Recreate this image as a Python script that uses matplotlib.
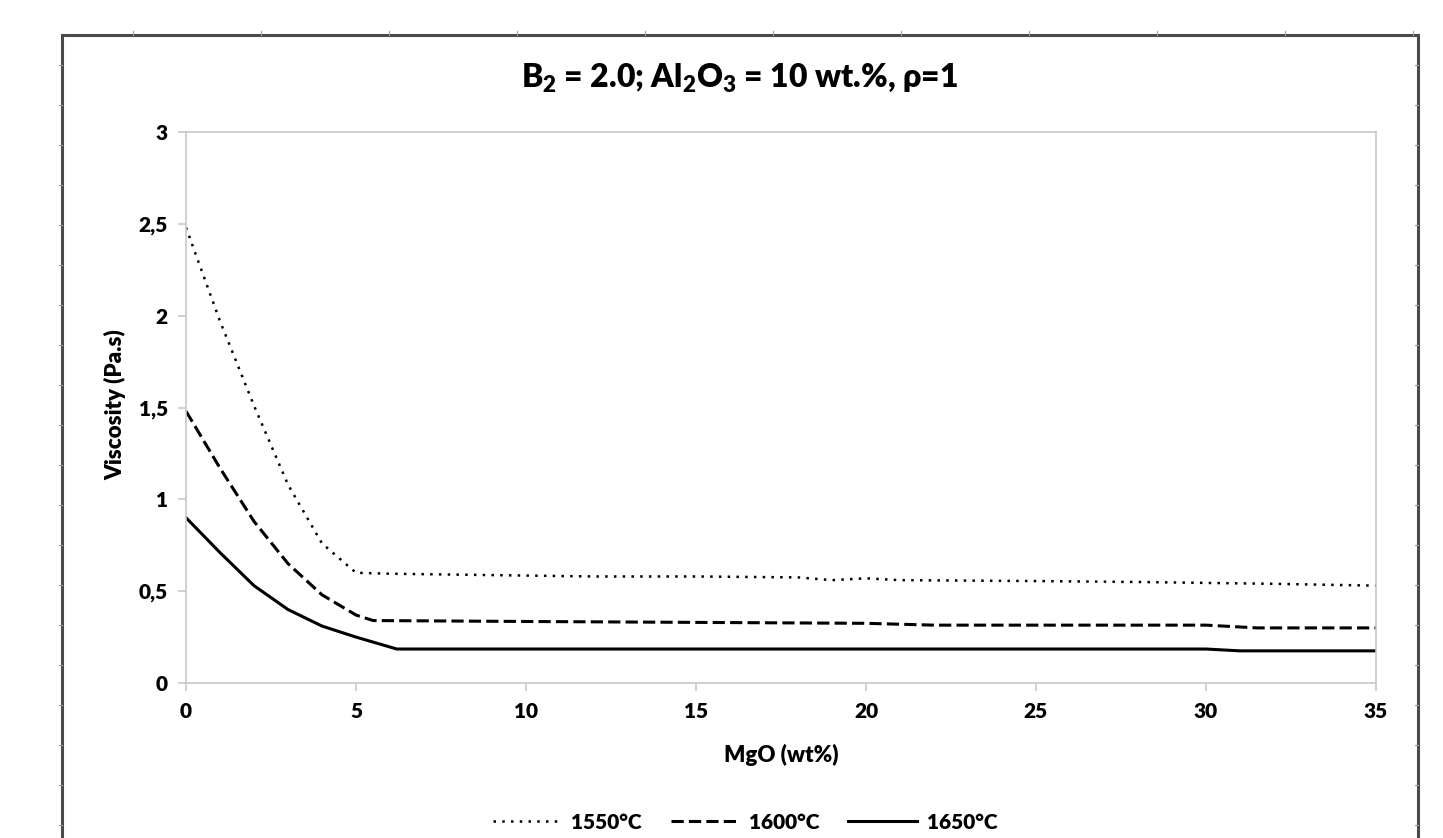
import matplotlib
matplotlib.use('Agg')
import matplotlib.pyplot as plt
from matplotlib.lines import Line2D
from matplotlib.patches import Rectangle

plt.rcParams['font.family'] = ['Lato', 'DejaVu Sans']
plt.rcParams['font.weight'] = 'heavy'
plt.rcParams['mathtext.fontset'] = 'custom'
plt.rcParams['mathtext.rm'] = 'Lato:heavy'
plt.rcParams['mathtext.bf'] = 'Lato:heavy'
plt.rcParams['mathtext.it'] = 'Lato:heavy'

# data
mgo_1550 = [0, 1, 2, 3, 4, 5, 6, 8, 10, 12, 15, 18, 19, 20, 21, 25, 28, 30, 32, 35]
visc_1550 = [2.48, 1.97, 1.51, 1.08, 0.76, 0.60, 0.595, 0.59, 0.585, 0.58, 0.58,
             0.575, 0.56, 0.57, 0.56, 0.555, 0.55, 0.545, 0.54, 0.53]

mgo_1600 = [0, 1, 2, 3, 4, 5, 5.5, 10, 15, 20, 22, 25, 30, 31.5, 35]
visc_1600 = [1.48, 1.17, 0.88, 0.65, 0.48, 0.37, 0.34, 0.335, 0.33, 0.325,
             0.315, 0.315, 0.315, 0.30, 0.30]

mgo_1650 = [0, 1, 2, 3, 4, 5, 6.2, 10, 20, 30, 31, 35]
visc_1650 = [0.90, 0.71, 0.53, 0.40, 0.31, 0.25, 0.185, 0.185, 0.185, 0.185,
             0.175, 0.175]

x_ticks = [0, 5, 10, 15, 20, 25, 30, 35]
y_ticks = [0, 0.5, 1, 1.5, 2, 2.5, 3]
y_tick_labels = ['0', '0,5', '1', '1,5', '2', '2,5', '3']
series_labels = ['1550°C', '1600°C', '1650°C']

W, H = 1443, 838
fig = plt.figure(figsize=(W / 100, H / 100), dpi=100)
ax = fig.add_axes([186 / W, 1 - 683 / H, 1190 / W, 551 / H])

ax.plot(mgo_1550, visc_1550, color='black', lw=1.8, linestyle=(0, (1, 2.5)),
        label=series_labels[0])
ax.plot(mgo_1600, visc_1600, color='black', lw=2.2, linestyle=(0, (4, 1.7)),
        label=series_labels[1])
ax.plot(mgo_1650, visc_1650, color='black', lw=2.2, linestyle='-',
        label=series_labels[2])

ax.set_xlim(0, 35)
ax.set_ylim(0, 3)
ax.set_xticks(x_ticks)
ax.set_yticks(y_ticks)
ax.set_yticklabels(y_tick_labels)
for s in ax.spines.values():
    s.set_color('#c8c8c8')
    s.set_linewidth(1.2)
ax.tick_params(axis='both', direction='out', length=6, width=1.2,
               color='#c8c8c8', labelsize=15)
ax.tick_params(axis='x', pad=8)
ax.tick_params(axis='y', pad=7)
for lab in ax.get_xticklabels() + ax.get_yticklabels():
    lab.set_fontweight('heavy')

ax.set_xlabel('MgO (wt%)', fontsize=16, fontweight='heavy')
ax.set_ylabel('Viscosity (Pa.s)', fontsize=16, fontweight='heavy')
ax.xaxis.set_label_coords(0.5, -0.11)
ax.yaxis.set_label_coords(-0.05, 0.505)

fig.text(739 / W, 1 - 78 / H,
         r'B$_\mathbf{2}$ = 2.0; Al$_\mathbf{2}$O$_\mathbf{3}$ = 10 wt.%, ρ=1',
         ha='center', va='center', fontsize=23, fontweight='heavy')

fig.legend(loc='center', bbox_to_anchor=(745 / W, 1 - 822 / H), ncol=3,
           frameon=False, handlelength=3.3, handletextpad=0.45,
           columnspacing=1.4, prop={'weight': 'heavy', 'size': 15})

# outer chart frame (runs past the bottom of the picture)
fig.patches.append(Rectangle((62 / W, -0.05), (1418 - 62) / W, 1.05 - 35 / H,
                             transform=fig.transFigure, fill=False,
                             edgecolor='#4a4a4a', lw=2.2, clip_on=False))
for px in range(133, 1418, 128):
    fig.add_artist(Line2D([px / W, px / W], [1 - 35 / H, 1 - 31 / H],
                          transform=fig.transFigure, color='#9a9a9a', lw=0.8))
for py in range(65, 838, 40):
    for ex in (62, 1418):
        fig.add_artist(Line2D([(ex - 3) / W, ex / W], [1 - py / H, 1 - py / H],
                              transform=fig.transFigure, color='#9a9a9a', lw=0.8))

fig.savefig('out.png', dpi=100)
